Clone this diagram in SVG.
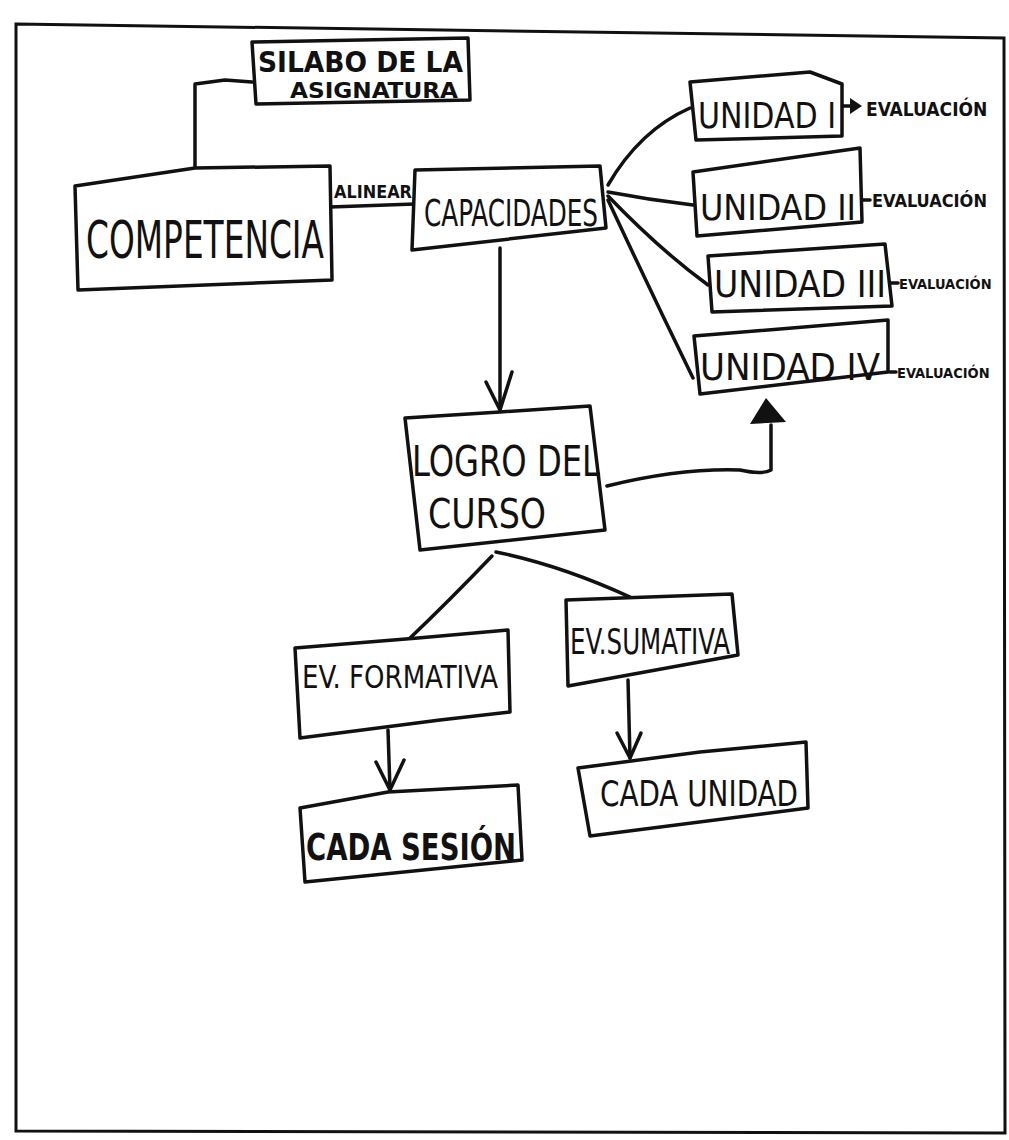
<svg xmlns="http://www.w3.org/2000/svg" width="1009" height="1140" viewBox="0 0 1009 1140">
<style>
.bx{fill:#fff;stroke:#111;stroke-width:3.5;stroke-linejoin:round}
.ln{fill:none;stroke:#111;stroke-width:3.5;stroke-linecap:round;stroke-linejoin:round}
.t{font-family:"DejaVu Sans Condensed","Liberation Sans",sans-serif;fill:#111;font-weight:normal}
.tb{font-family:"DejaVu Sans Condensed","Liberation Sans",sans-serif;fill:#111;font-weight:bold}
</style>
<rect width="1009" height="1140" fill="#fff"/>
<polygon points="16,24 1004,38 1005,1133 16,1131" fill="none" stroke="#111" stroke-width="3"/>

<g id="connectors">
<path class="ln" d="M195,168 L195,84 L225,80 L252,82"/>
<path class="ln" d="M330,207 L415,204"/>
<path class="ln" d="M500,248 L500,410"/>
<path class="ln" d="M486,382 L500,410 L512,372"/>
<path class="ln" d="M608,185 Q640,130 690,108"/>
<path class="ln" d="M608,192 Q650,200 693,205"/>
<path class="ln" d="M608,196 Q660,250 708,285"/>
<path class="ln" d="M608,200 Q650,290 693,378"/>
<path class="ln" d="M607,486 Q680,468 740,470 Q762,475 771,470 L771,425"/>
<path d="M750,424 L766,398 L786,422 Z" fill="#111"/>
<path class="ln" d="M492,556 Q450,600 408,640"/>
<path class="ln" d="M496,552 Q560,565 630,597"/>
<path class="ln" d="M388,730 L390,790"/>
<path class="ln" d="M376,762 L390,790 L404,760"/>
<path class="ln" d="M628,680 L630,758"/>
<path class="ln" d="M617,733 L630,758 L641,733"/>
<path class="ln" d="M842,106 L856,106"/>
<path d="M850,98 L862,106 L850,114 Z" fill="#111"/>
<path class="ln" d="M862,200 L870,200"/>
<path class="ln" d="M890,283 L898,283"/>
<path class="ln" d="M890,372 L896,372"/>
</g>

<g id="silabo">
<polygon class="bx" points="252,42 468,38 470,100 256,104"/>
<text class="tb" x="258" y="72" font-size="28" textLength="205" lengthAdjust="spacingAndGlyphs">SILABO DE LA</text>
<text class="tb" x="290" y="98" font-size="22" textLength="168" lengthAdjust="spacingAndGlyphs">ASIGNATURA</text>
</g>

<g id="competencia">
<polygon class="bx" points="75,186 195,168 330,166 332,280 78,290"/>
<text class="t" x="86" y="258" font-size="52" textLength="238" lengthAdjust="spacingAndGlyphs">COMPETENCIA</text>
</g>

<g id="alinear">
<text class="tb" x="334" y="198" font-size="17" textLength="78" lengthAdjust="spacingAndGlyphs">ALINEAR</text>
</g>

<g id="capacidades">
<polygon class="bx" points="415,170 600,166 606,228 412,250"/>
<text class="t" x="424" y="226" font-size="38" textLength="174" lengthAdjust="spacingAndGlyphs">CAPACIDADES</text>
</g>

<g id="unidad1">
<polygon class="bx" points="690,82 810,72 842,84 842,136 696,140"/>
<text class="t" x="698" y="128" font-size="36" textLength="138" lengthAdjust="spacingAndGlyphs">UNIDAD I</text>
<text class="tb" x="866" y="116" font-size="19">EVALUACIÓN</text>
</g>

<g id="unidad2">
<polygon class="bx" points="693,172 860,148 862,222 697,236"/>
<text class="t" x="700" y="220" font-size="36" textLength="156" lengthAdjust="spacingAndGlyphs">UNIDAD II</text>
<text class="tb" x="872" y="207" font-size="18">EVALUACIÓN</text>
</g>

<g id="unidad3">
<polygon class="bx" points="708,256 885,244 892,306 712,312"/>
<text class="t" x="714" y="297" font-size="38" textLength="172" lengthAdjust="spacingAndGlyphs">UNIDAD III</text>
<text class="tb" x="899" y="289" font-size="14.5">EVALUACIÓN</text>
</g>

<g id="unidad4">
<polygon class="bx" points="694,336 888,320 888,372 700,394"/>
<text class="t" x="700" y="380" font-size="38" textLength="180" lengthAdjust="spacingAndGlyphs">UNIDAD IV</text>
<text class="tb" x="897" y="378" font-size="14.5">EVALUACIÓN</text>
</g>

<g id="logro">
<polygon class="bx" points="405,418 500,412 590,406 605,530 420,550"/>
<text class="t" x="412" y="476" font-size="42" textLength="188" lengthAdjust="spacingAndGlyphs">LOGRO DEL</text>
<text class="t" x="428" y="528" font-size="40" textLength="118" lengthAdjust="spacingAndGlyphs">CURSO</text>
</g>

<g id="formativa">
<polygon class="bx" points="295,648 418,638 508,630 510,712 440,720 300,738"/>
<text class="t" x="302" y="688" font-size="32" textLength="196" lengthAdjust="spacingAndGlyphs">EV. FORMATIVA</text>
</g>

<g id="sumativa">
<polygon class="bx" points="566,600 732,594 738,655 568,686"/>
<text class="t" x="570" y="654" font-size="36" textLength="160" lengthAdjust="spacingAndGlyphs">EV.SUMATIVA</text>
</g>

<g id="sesion">
<polygon class="bx" points="300,808 388,792 518,785 522,860 305,882"/>
<text class="tb" x="306" y="860" font-size="38" textLength="210" lengthAdjust="spacingAndGlyphs">CADA SESIÓN</text>
</g>

<g id="cadaunidad">
<polygon class="bx" points="578,768 700,752 806,742 808,808 590,836"/>
<text class="t" x="600" y="806" font-size="36" textLength="198" lengthAdjust="spacingAndGlyphs">CADA UNIDAD</text>
</g>
</svg>
